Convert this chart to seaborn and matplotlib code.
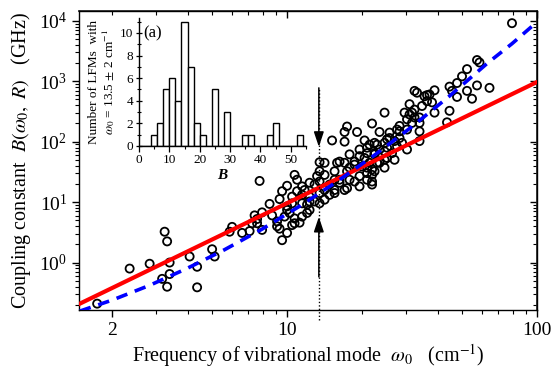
import numpy as np
import pandas as pd
import matplotlib
matplotlib.use("Agg")
import matplotlib.pyplot as plt
from matplotlib import ticker
import seaborn as sns


# log10 of mode frequency (cm^-1) and of coupling B (GHz)
log_freq = [
    0.24, 0.37, 0.45, 0.51, 0.52, 0.53, 0.53, 0.50, 0.52, 0.61, 0.64, 0.64,
    0.70, 0.71, 0.78, 0.77, 0.82, 0.85, 0.87, 0.88, 0.90, 0.88, 0.90, 0.89, 0.93, 0.94,
    0.96, 0.97, 0.98, 0.97, 0.98, 1.00, 1.00, 0.99, 1.01, 1.02, 1.02, 1.03, 1.04, 1.03,
    0.86, 0.96, 1.00, 1.02, 1.06, 1.06, 1.05, 1.08, 1.08, 1.03, 1.00,
    1.24, 1.23, 1.28, 1.34, 1.18, 1.23, 1.31, 1.33, 1.32, 1.29, 1.13, 1.13, 1.15, 1.15,
    1.20, 1.19, 1.23, 1.25, 1.27, 1.30, 1.33, 1.32, 1.29, 1.25, 1.21, 1.17, 1.19, 1.23,
    1.27, 1.12, 1.13, 1.11, 1.09, 1.07, 1.09, 1.13, 1.15, 1.17, 1.19, 1.15, 1.11, 1.13,
    1.09, 1.06, 1.09, 1.06, 1.04,
    1.39, 1.37, 1.32, 1.36, 1.40, 1.39, 1.29, 1.35, 1.40, 1.25, 1.31, 1.36, 1.21, 1.27,
    1.32, 1.35, 1.39, 1.24, 1.32, 1.21, 1.34, 1.29, 1.19, 1.24,
    1.51, 1.52, 1.57, 1.59, 1.58, 1.55, 1.65, 1.66, 1.68, 1.65, 1.64, 1.49, 1.50, 1.47,
    1.48, 1.50, 1.53, 1.53, 1.53, 1.48, 1.45, 1.45, 1.48, 1.41, 1.41, 1.43, 1.35, 1.39,
    1.40, 1.44, 1.42, 1.37, 1.35, 1.39, 1.43, 1.37, 1.34, 1.34, 1.34,
    1.90, 1.76, 1.77, 1.72, 1.70, 1.68, 1.72, 1.76, 1.81, 1.74, 1.56, 1.51, 1.49, 1.51,
    1.54, 1.56, 1.59, 1.53, 1.45, 1.44, 1.46,
]
log_coupling = [
    -0.68, -0.10, -0.02, 0.51, 0.35, 0.00, -0.19, -0.27, -0.40, 0.10, -0.07, -0.41,
    0.22, 0.10, 0.59, 0.51, 0.49, 0.52, 0.78, 0.72, 0.83, 0.65, 0.54, 1.35, 0.97, 0.78,
    0.68, 0.56, 0.37, 1.05, 1.18, 1.27, 0.87, 0.76, 0.82, 1.09, 0.62, 1.45, 1.18, 0.73,
    0.65, 0.60, 0.93, 0.98, 1.26, 1.12, 0.66, 0.96, 0.82, 0.65, 0.49,
    2.25, 2.16, 2.16, 2.30, 2.02, 2.00, 2.02, 1.95, 1.81, 1.76, 1.66, 1.51, 1.65, 1.45,
    1.65, 1.51, 1.65, 1.57, 1.67, 1.59, 1.65, 1.48, 1.43, 1.37, 1.37, 1.29, 1.20, 1.20,
    1.34, 1.43, 1.34, 1.29, 1.32, 1.20, 1.09, 1.15, 1.20, 1.12, 1.15, 1.04, 1.01, 0.98,
    1.01, 0.98, 0.87, 0.76, 1.37,
    2.48, 2.16, 1.90, 1.95, 2.04, 1.84, 1.87, 1.81, 1.73, 1.79, 1.73, 1.65, 1.67, 1.62,
    1.57, 1.51, 1.57, 1.51, 1.37, 1.32, 1.29, 1.26, 1.37, 1.23,
    2.84, 2.81, 2.78, 2.85, 2.65, 2.75, 2.91, 2.84, 2.97, 2.51, 2.32, 2.62, 2.48, 2.48,
    2.37, 2.31, 2.31, 2.17, 2.01, 2.20, 2.17, 2.06, 1.87, 2.15, 2.06, 2.01, 1.98, 1.98,
    1.90, 1.92, 1.81, 1.87, 1.79, 1.70, 1.70, 1.65, 1.54, 1.45, 1.34,
    3.96, 3.35, 3.31, 3.20, 3.08, 2.74, 2.84, 2.93, 2.89, 2.71, 2.77, 2.53, 2.45, 2.40,
    2.59, 2.67, 2.48, 2.40, 2.26, 2.20, 1.98,
]

# red fit (B ~ omega^2), end points
red_freq = [1.45, 100]
red_b = [0.20, 970]

# blue dashed fit
blue_freq = [1.48, 2.0, 2.82, 3.98, 5.62, 7.94, 11.2, 15.8, 22.4, 31.6, 44.7, 63.1, 79.4, 100]
blue_b = [0.157, 0.24, 0.42, 0.80, 1.63, 3.57, 8.5, 21.7, 60, 177, 570, 1960, 4170, 9550]

# marked frequency and the two arrows (B values of tail and head)
omega_mark = 13.4
arrow_down = [776, 82]
arrow_up = [0.58, 5.7]
dotted_b = [0.112, 776]

# inset histogram: left edge of each 2-wide bin of B and number of modes
hist_left = [4, 6, 8, 10, 12, 14, 16, 18, 20, 24, 28, 34, 36, 42, 44, 52]
hist_count = [1, 2, 5, 6, 4, 11, 7, 2, 1, 5, 3, 1, 1, 1, 2, 1]


sns.set_theme(style="ticks")
plt.rcParams["font.family"] = ["Liberation Serif", "DejaVu Serif"]
plt.rcParams["mathtext.fontset"] = "stix"
plt.rcParams["text.color"] = "black"
plt.rcParams["axes.labelcolor"] = "black"

df = pd.DataFrame({"omega": 10 ** np.array(log_freq), "B": 10 ** np.array(log_coupling)})

fig = plt.figure(figsize=(5.52, 3.73), dpi=100)
ax = fig.add_axes([0.1431, 0.1689, 0.8297, 0.8016])

sns.scatterplot(data=df, x="omega", y="B", ax=ax, s=34, marker="o",
                facecolors="none", edgecolor="black", linewidth=1.3, zorder=2)
sns.lineplot(x=red_freq, y=red_b, ax=ax, color="#ff0000", lw=3.0, zorder=3)
sns.lineplot(x=blue_freq, y=blue_b, ax=ax, color="#0000ff", lw=2.6,
             linestyle=(0, (3.2, 2.2)), zorder=4)

ax.plot([omega_mark, omega_mark], dotted_b, ls=(0, (1, 1.5)), color="black", lw=1.0,
        clip_on=False, zorder=5)
for tail, head in (arrow_down, arrow_up):
    ax.annotate("", xy=(omega_mark, head), xytext=(omega_mark, tail),
                arrowprops=dict(arrowstyle="-|>,head_length=0.9,head_width=0.3",
                                color="black", lw=1.1, mutation_scale=10,
                                shrinkA=0, shrinkB=0), zorder=6)

ax.set(xscale="log", yscale="log", xlim=(1.47, 100), ylim=(0.164, 14500))
ax.xaxis.set_major_locator(ticker.FixedLocator([2, 10, 100]))
ax.xaxis.set_major_formatter(ticker.FixedFormatter(["2", "10", "100"]))
ax.xaxis.set_minor_locator(ticker.LogLocator(base=10, subs=np.arange(2, 10), numticks=20))
ax.xaxis.set_minor_formatter(ticker.NullFormatter())
ax.yaxis.set_major_locator(ticker.LogLocator(base=10, numticks=20))
ax.yaxis.set_major_formatter(ticker.LogFormatterMathtext())
ax.yaxis.set_minor_locator(ticker.LogLocator(base=10, subs=np.arange(2, 10), numticks=20))
ax.yaxis.set_minor_formatter(ticker.NullFormatter())

ax.tick_params(which="both", labelsize=14, colors="black", direction="out")
ax.tick_params(which="major", length=5, width=1.0)
ax.tick_params(which="minor", length=3, width=0.8)
for side in ax.spines.values():
    side.set_linewidth(1.0)
    side.set_color("black")

# inward ticks on the top and right frame
top = ax.secondary_xaxis("top")
top.xaxis.set_major_locator(ticker.FixedLocator([10, 100]))
top.xaxis.set_minor_locator(ticker.LogLocator(base=10, subs=np.arange(2, 10), numticks=20))
right = ax.secondary_yaxis("right")
right.yaxis.set_major_locator(ticker.LogLocator(base=10, numticks=20))
right.yaxis.set_minor_locator(ticker.LogLocator(base=10, subs=np.arange(2, 10), numticks=20))
for sec in (top, right):
    sec.tick_params(which="both", direction="in", labeltop=False, labelright=False,
                    labelbottom=False, labelleft=False, colors="black")
    sec.tick_params(which="major", length=5, width=1.0)
    sec.tick_params(which="minor", length=3, width=0.8)
top.xaxis.set_major_formatter(ticker.NullFormatter())
top.xaxis.set_minor_formatter(ticker.NullFormatter())
right.yaxis.set_major_formatter(ticker.NullFormatter())
right.yaxis.set_minor_formatter(ticker.NullFormatter())

ax.set_xlabel(r"Frequency of vibrational mode  $\omega_\mathit{0}$   (cm$^{-1}$)",
              fontsize=14.5, labelpad=2)
ax.set_ylabel(r"Coupling constant  $B(\omega_\mathit{0},\ R)$   (GHz)", fontsize=14.5,
              labelpad=4)

# inset histogram: one entry per mode, at the centre of its bin
axin = fig.add_axes([0.2518, 0.6086, 0.3025, 0.3424])
axin.patch.set_alpha(0)
hist_df = pd.DataFrame({"B": np.repeat([left + 1 for left in hist_left], hist_count)})
sns.histplot(data=hist_df, x="B", binwidth=2, binrange=(0, 56), ax=axin,
             color="white", edgecolor="black", linewidth=1.0, alpha=1)
axin.set_xlim(0, 55)
axin.set_ylim(0, 11.3)
axin.set_xticks([0, 10, 20, 30, 40, 50])
axin.set_yticks([0, 2, 4, 6, 8, 10])
axin.xaxis.set_minor_locator(ticker.MultipleLocator(5))
axin.yaxis.set_minor_locator(ticker.MultipleLocator(1))
axin.tick_params(which="both", labelsize=9.5, pad=2, colors="black")
axin.tick_params(which="major", length=4, width=0.9)
axin.tick_params(which="minor", length=2.5, width=0.8)
axin.tick_params(axis="y", which="both", direction="inout")
sns.despine(ax=axin)
for side in ("left", "bottom"):
    axin.spines[side].set_linewidth(1.0)
    axin.spines[side].set_color("black")
axin.set_xlabel("B", fontsize=11, fontweight="bold", fontstyle="italic", labelpad=2)
axin.set_ylabel("Number of LFMs  with\n" + r"$\omega_\mathit{0}$ = 13.5 $\pm$ 2 cm$^{-1}$",
                fontsize=9.5, linespacing=1.0, labelpad=2)
axin.text(1.5, 10.0, "(a)", fontsize=12, va="center", ha="left")

fig.savefig("out.png", dpi=100)
plt.close(fig)
